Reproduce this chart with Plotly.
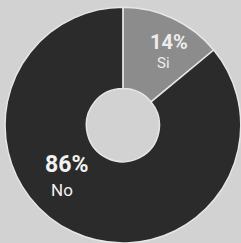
import plotly.graph_objects as go

labels = ["Si", "No"]
values = [14, 86]
pct_text = ["14%", "86%"]
colors = ["#8c8c8c", "#2b2b2b"]

fig = go.Figure(go.Pie(
    labels=labels,
    values=values,
    hole=0.31,
    sort=False,
    direction="clockwise",
    rotation=0,
    marker=dict(colors=colors, line=dict(color="#e6e6e6", width=1.5)),
    textinfo="none",
    hoverinfo="label+percent",
    domain=dict(x=[0.02, 1.0], y=[0.0, 0.97]),
    showlegend=False,
))

def ann(x, y, text, size, color):
    fig.add_annotation(x=x/241, y=1-y/243, xref="paper", yref="paper",
                       xanchor="center", yanchor="middle", borderpad=0,
                       text=text, showarrow=False,
                       font=dict(family="Roboto", size=size, color=color))

ann(169, 42, "<b>" + pct_text[0] + "</b>", 20, "#ececec")
ann(163, 63, labels[0], 15, "#ececec")
ann(66, 164, "<b>" + pct_text[1] + "</b>", 23, "#f2f2f2")
ann(62, 190, labels[1], 17, "#f2f2f2")

fig.update_layout(
    width=241, height=243,
    margin=dict(l=0, r=0, t=0, b=0),
    paper_bgcolor="#d2d2d2",
    plot_bgcolor="#d2d2d2",
)

fig.write_html(
    "out.html",
    config={"displayModeBar": False},
    post_script="document.body.style.margin='0';document.body.style.background='#d2d2d2';",
)
